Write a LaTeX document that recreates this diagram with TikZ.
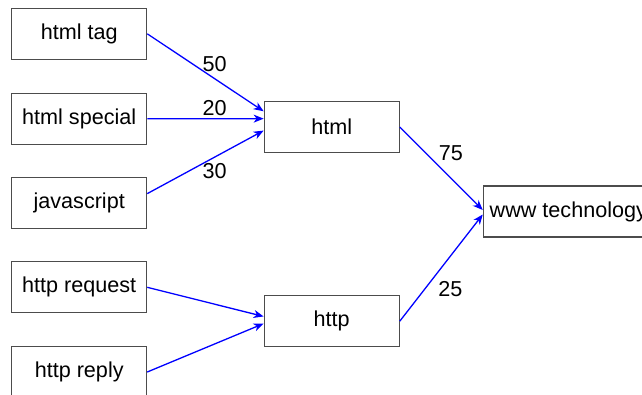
\documentclass[tikz,border=0pt]{standalone}
\usepackage{fontspec}
\setmainfont{Liberation Sans}
\usetikzlibrary{arrows.meta,positioning}

\begin{document}
\begin{tikzpicture} [x=1pt,y=-1pt,{box/.style={rectangle,draw=black!70,line width=1.1pt,minimum width=135pt,minimum height=51pt,inner sep=0pt,font=\fontsize{21.6}{25}\selectfont}},{flow/.style={draw=blue,line width=1.3pt,-{Stealth[length=10pt,width=8pt,inset=3pt]}}},{weight/.style={inner sep=0pt,font=\fontsize{21.6}{25}\selectfont}}]
	%%page frame
	\useasboundingbox (0,0) rectangle (642,394);
	%%sources
	\node [box] (tag) at (79.2,33.8) {html tag};
	\node [box] (special) at (79.2,118.7) {html special};
	\node [box] (js) at (79.2,203.2) {javascript};
	\node [box] (request) at (79.2,287.3) {http request};
	\node [box] (reply) at (79.2,372.0) {http reply};
	%%middle layer
	\node [box] (html) at (331.7,127.0) {html};
	\node [box] (http) at (331.7,321.2) {http};
	%%sink
	\node [box,minimum width=170pt] (www) at (568.3,211.5) {www technology};
	
	%%html branch
	\draw [flow] (tag.east) -- (html.167) node[weight,pos=0.579,above=6pt] {50};
	\draw [flow] (special.east) -- (html.173) node[weight,pos=0.579,above=2.5pt] {20};
	\draw [flow] (js.8) -- (html.183) node[weight,pos=0.579,below=6pt] {30};
	%%http branch
	\draw [flow] (request.east) -- (http.176);
	\draw [flow] (reply.east) -- (http.182);
	%%to www
	\draw [flow] (html.east) -- (www.179) node[weight,pos=0.32,right=12pt] {75};
	\draw [flow] (http.east) -- (www.182) node[weight,pos=0.30,right=13pt] {25};
\end{tikzpicture}
\end{document}
